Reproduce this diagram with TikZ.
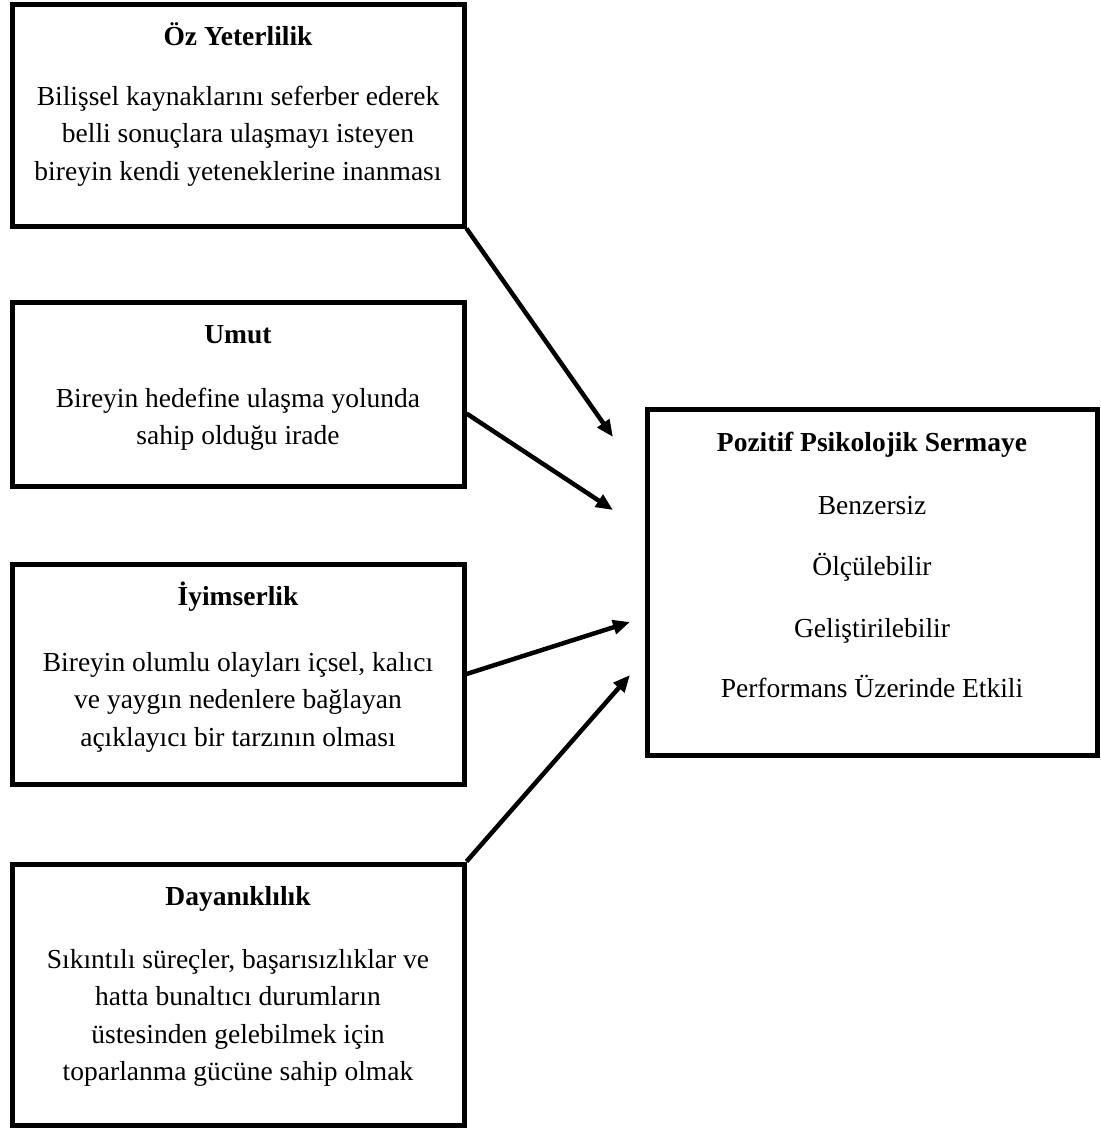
\documentclass[tikz,border=0pt]{standalone}
\usepackage{fontspec}
\setmainfont{Liberation Serif}
\usetikzlibrary{arrows.meta,calc}
\begin{document}
\begin{tikzpicture}[x=1pt,y=-1pt,
  frame/.style={draw=black, line width=5pt, rectangle, inner sep=0pt},
  head/.style={anchor=base, inner sep=0pt, font=\fontsize{27.5}{37.5}\selectfont\bfseries},
  body/.style={anchor=base, inner sep=0pt, font=\fontsize{27.5}{37.5}\selectfont},
  link/.style={line width=4.5pt, -{Triangle[length=17pt,width=14pt]}},
]
\useasboundingbox (0,0) rectangle (1101,1128);

% left column: the four components
\node[frame, minimum width=452pt, minimum height=222pt] (b1) at (238,115) {};
\node[head] (t1) at (238,45) {Öz Yeterlilik};
\node[body] (d1) at (238,105) {\begin{tabular}[t]{@{}c@{}}Bilişsel kaynaklarını seferber ederek\\belli sonuçlara ulaşmayı isteyen\\bireyin kendi yeteneklerine inanması\end{tabular}};

\node[frame, minimum width=452pt, minimum height=184pt] (b2) at (238,394) {};
\node[head] (t2) at (238,343) {Umut};
\node[body] (d2) at (238,407) {\begin{tabular}[t]{@{}c@{}}Bireyin hedefine ulaşma yolunda\\sahip olduğu irade\end{tabular}};

\node[frame, minimum width=452pt, minimum height=220pt] (b3) at (238,674) {};
\node[head] (t3) at (238,605) {İyimserlik};
\node[body] (d3) at (238,671) {\begin{tabular}[t]{@{}c@{}}Bireyin olumlu olayları içsel, kalıcı\\ve yaygın nedenlere bağlayan\\açıklayıcı bir tarzının olması\end{tabular}};

\node[frame, minimum width=452pt, minimum height=261pt] (b4) at (238,994.5) {};
\node[head] (t4) at (238,905) {Dayanıklılık};
\node[body] (d4) at (238,968) {\begin{tabular}[t]{@{}c@{}}Sıkıntılı süreçler, başarısızlıklar ve\\hatta bunaltıcı durumların\\üstesinden gelebilmek için\\toparlanma gücüne sahip olmak\end{tabular}};

% right: the combined construct
\node[frame, minimum width=449.5pt, minimum height=346pt] (pc) at (872.25,582) {};
\node[head] (p0) at (872,451) {Pozitif Psikolojik Sermaye};
\node[body] (p1) at (872,514) {Benzersiz};
\node[body] (p2) at (872,575) {Ölçülebilir};
\node[body] (p3) at (872,637) {Geliştirilebilir};
\node[body] (p4) at (872,697) {Performans Üzerinde Etkili};

% arrow ends
\coordinate (e1) at (613,437);
\coordinate (e2) at (613,510);
\coordinate (e3) at (630,622);
\coordinate (e4) at (630,675);

\draw[link] (b1.south east) -- (e1);
\draw[link] ($(b2.south east)!0.397!(b2.north east)$) -- (e2);
\draw[link] (b3.east) -- (e3);
\draw[link] (b4.north east) -- (e4);
\end{tikzpicture}
\end{document}
